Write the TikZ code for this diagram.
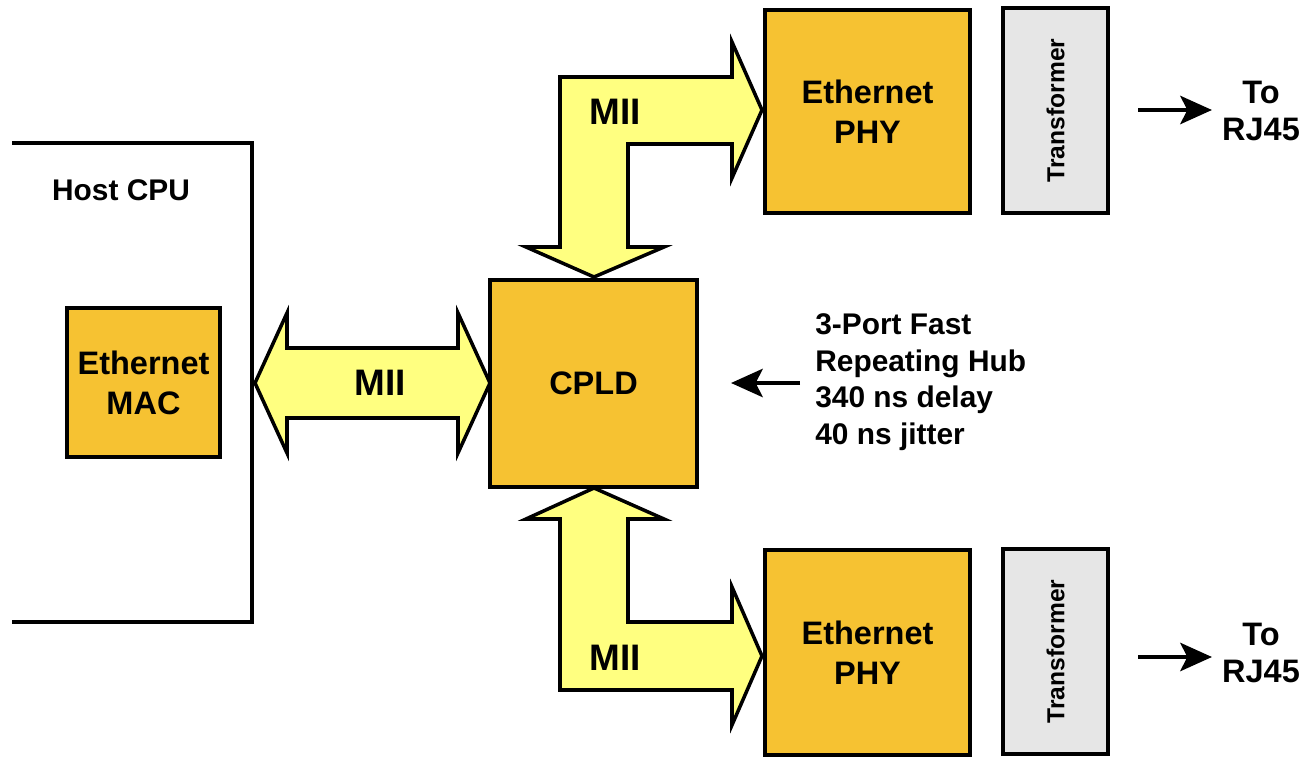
\documentclass[tikz,border=0pt]{standalone}
\usepackage{fontspec}
\setmainfont{Liberation Sans}
\usetikzlibrary{arrows.meta}
\definecolor{boxorange}{RGB}{246,194,50}
\definecolor{miiyellow}{RGB}{255,255,128}
\definecolor{xfgray}{RGB}{230,230,230}
\tikzset{
  obox/.style={draw=black, line width=2pt, fill=boxorange, align=center, inner sep=0pt,
    font=\fontsize{18.5}{22.7}\selectfont\bfseries},
  xbox/.style={draw=black, line width=2pt, fill=xfgray, inner sep=0pt,
    minimum width=2.1cm, minimum height=4.1cm},
  xtext/.style={rotate=90, font=\fontsize{14}{16}\selectfont\bfseries},
  blockarrow/.style={draw=black, line width=2pt, fill=miiyellow, line join=miter},
  miilabel/.style={font=\fontsize{21}{24}\selectfont\bfseries},
  plaintext/.style={align=center, inner sep=0pt, font=\fontsize{18.5}{21.5}\selectfont\bfseries},
  hubtext/.style={align=left, inner sep=0pt, font=\fontsize{17}{20.8}\selectfont\bfseries},
  thinarrow/.style={line width=2.8pt, -{Stealth[length=18pt,width=16pt,inset=4pt]}},
}
\begin{document}
\begin{tikzpicture}[x=0.02cm,y=-0.02cm]
\useasboundingbox (0,0) rectangle (1303,757);

% Host CPU outline (open at left)
\draw[line width=2pt] (12,143) -- (252,143) -- (252,622) -- (12,622);
\node[font=\fontsize{17}{20}\selectfont\bfseries] (hostlbl) at (121,190) {Host CPU};

% boxes
\node[obox, minimum width=3.06cm, minimum height=2.98cm] (mac) at (143.5,382.5) {Ethernet\\MAC};
\node[obox, minimum width=4.14cm, minimum height=4.14cm] (cpld) at (593.5,383.5) {CPLD};
\node[obox, minimum width=4.1cm, minimum height=4.06cm] (phy1) at (867.5,111.5) {Ethernet\\PHY};
\node[obox, minimum width=4.1cm, minimum height=4.1cm] (phy2) at (867.5,652.5) {Ethernet\\PHY};
\node[xbox] (xf1) at (1055.5,110.5) {};
\node[xtext] (xf1t) at (xf1.center) {Transformer};
\node[xbox] (xf2) at (1055.5,651.5) {};
\node[xtext] (xf2t) at (xf2.center) {Transformer};

% MII block arrows
\draw[blockarrow] (255,383) -- (287,313) -- (287,348) -- (458,348) -- (458,313) -- (490,383)
  -- (458,453) -- (458,418) -- (287,418) -- (287,453) -- cycle;
\node[miilabel] (mii0) at (380,383) {MII};

\draw[blockarrow] (594,277) -- (526,247) -- (560,247) -- (560,77) -- (732,77) -- (732,42)
  -- (762,110) -- (732,178) -- (732,144) -- (628,144) -- (628,247) -- (664,247) -- cycle;
\node[miilabel] (mii1) at (615,112) {MII};

\draw[blockarrow] (594,488) -- (664,519) -- (628,519) -- (628,622) -- (732,622) -- (732,587)
  -- (762,656) -- (732,725) -- (732,690) -- (560,690) -- (560,519) -- (526,519) -- cycle;
\node[miilabel] (mii2) at (615,658) {MII};

% To RJ45
\node[plaintext] (rj1) at (1261,111) {To\\RJ45};
\node[plaintext] (rj2) at (1261,653) {To\\RJ45};
\coordinate (a1s) at (1138,110);
\coordinate (a2s) at (1138,657);
\draw[thinarrow] (a1s) -- (1212,110);
\draw[thinarrow] (a2s) -- (1212,657);

% Hub annotation
\node[hubtext, anchor=west] (hub) at (815,382) {3-Port Fast\\Repeating Hub\\340 ns delay\\40 ns jitter};
\coordinate (hubs) at (800,383);
\draw[thinarrow] (hubs) -- (731,383);
\end{tikzpicture}
\end{document}
